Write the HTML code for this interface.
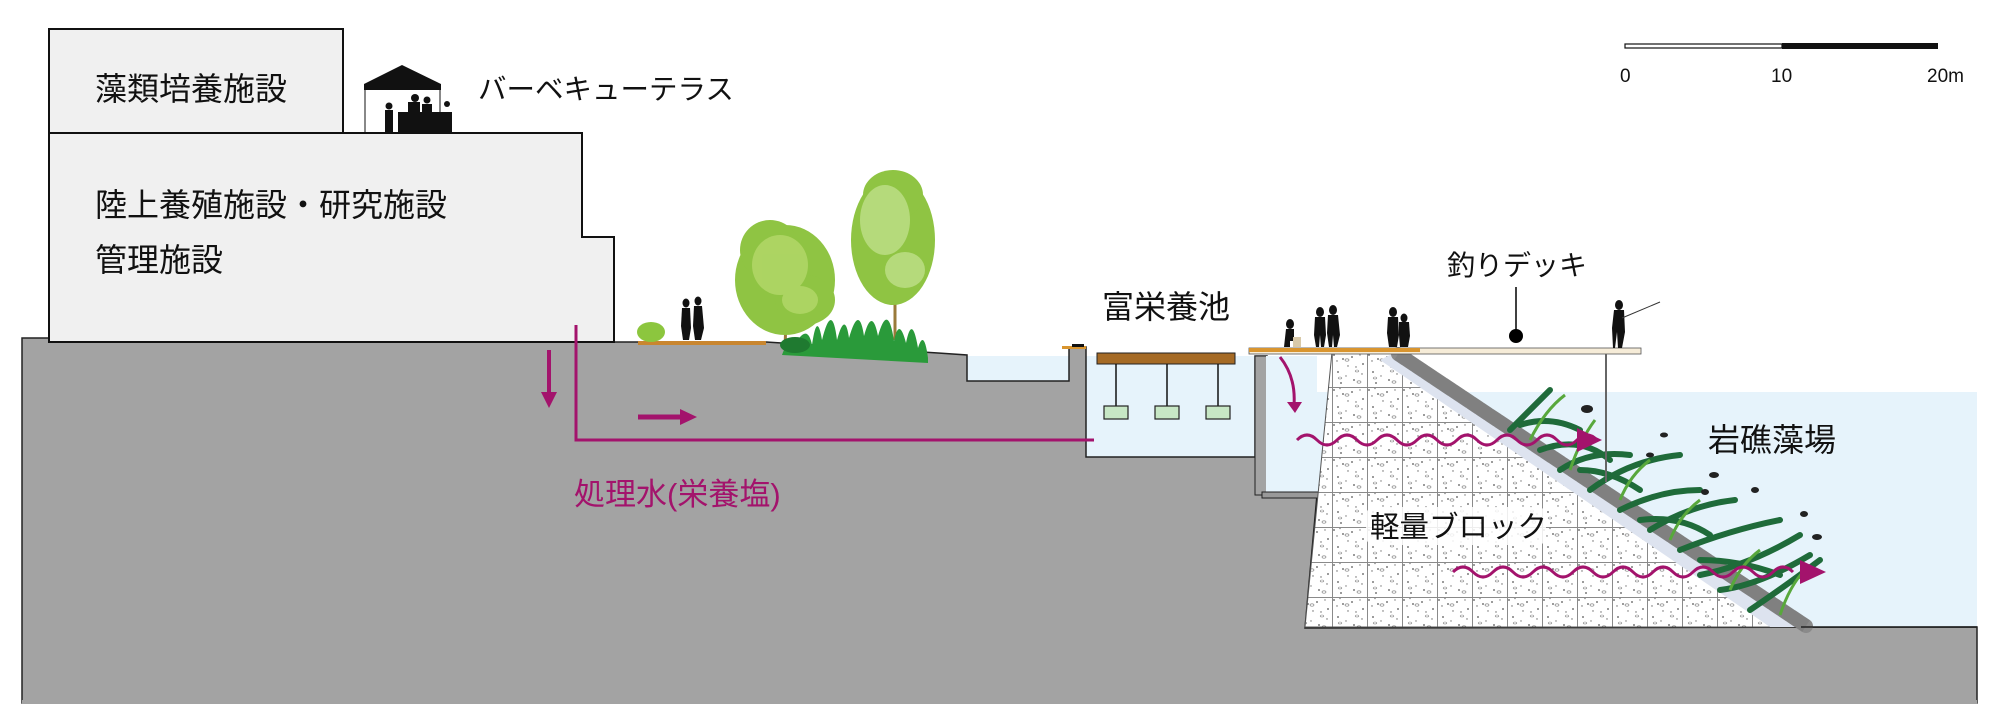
<!DOCTYPE html>
<html><head><meta charset="utf-8"><style>
html,body{margin:0;padding:0;background:#fff;}
svg{display:block}
text{font-family:"Liberation Sans","Noto Sans CJK JP",sans-serif;}
</style></head><body>
<svg width="2000" height="726" viewBox="0 0 2000 726" xmlns="http://www.w3.org/2000/svg">
<defs>
<pattern id="grid" width="35" height="35" patternUnits="userSpaceOnUse" x="1332" y="352">
<rect width="35" height="35" fill="#fff"/>
<circle cx="2" cy="3" r="0.9" fill="#555"/><circle cx="8" cy="1.5" r="0.7" fill="#777"/>
<circle cx="11" cy="7" r="0.9" fill="#555"/><circle cx="5" cy="9" r="0.7" fill="#666"/>
<circle cx="20" cy="5" r="0.9" fill="#555"/><circle cx="28" cy="3" r="0.7" fill="#777"/>
<circle cx="31" cy="12" r="0.9" fill="#555"/><circle cx="24" cy="15" r="0.7" fill="#666"/>
<circle cx="6" cy="20" r="0.9" fill="#555"/><circle cx="14" cy="24" r="0.7" fill="#777"/>
<circle cx="22" cy="28" r="0.9" fill="#555"/><circle cx="30" cy="22" r="0.7" fill="#666"/>
<circle cx="9" cy="31" r="0.9" fill="#555"/><circle cx="16" cy="14" r="0.7" fill="#666"/>
<ellipse cx="15" cy="8" rx="2" ry="1.2" fill="none" stroke="#777" stroke-width="0.6"/>
<ellipse cx="27" cy="30" rx="2" ry="1.2" fill="none" stroke="#777" stroke-width="0.6"/>
<ellipse cx="8" cy="26" rx="1.8" ry="1" fill="none" stroke="#888" stroke-width="0.6"/>
<ellipse cx="25" cy="19" rx="1.8" ry="1" fill="none" stroke="#888" stroke-width="0.6"/>
<path d="M0 0.5H35M0.5 0V35" stroke="#8a8a8a" stroke-width="1" fill="none"/>
</pattern>
</defs>

<!-- water -->
<rect x="967" y="356" width="102" height="30" fill="#e6f3fb"/>
<rect x="1086" y="356" width="170" height="101" fill="#e6f3fb"/>
<rect x="1267" y="392" width="710" height="236" fill="#e6f3fb"/>

<!-- ground -->
<polygon fill="#a3a3a3" stroke="#222" stroke-width="1.5" points="22,338 49,338 49,342 766,342 938,353 967,355 967,381 1069,381 1069,347 1086,347 1086,457 1255,457 1255,356 1267,356 1267,495 1317,495 1305,628 1977,627 1977,703 22,703"/>
<rect x="1255" y="356" width="12" height="139" fill="#a3a3a3" stroke="#222" stroke-width="1"/>
<rect x="1266" y="356" width="51" height="139" fill="#e6f3fb"/>
<rect x="1262" y="492" width="58" height="6" fill="#999" stroke="#222" stroke-width="1"/>
<rect x="22" y="700" width="1955" height="4" fill="#a3a3a3"/>

<!-- block -->
<polygon points="1332,352 1396,352 1801,627 1305,627" fill="url(#grid)" stroke="#555" stroke-width="1"/>
<polygon points="1396,352 1801,627 1770,627 1380,360" fill="#dde3ef"/>
<line x1="1398" y1="354" x2="1806" y2="626" stroke="#8a8a8a" stroke-width="14" stroke-dasharray="9 2" stroke-linecap="round"/>
<line x1="1398" y1="354" x2="1806" y2="626" stroke="#6a6a6a" stroke-width="14" stroke-opacity="0.3"/>
<line x1="1801" y1="627" x2="1977" y2="627" stroke="#222" stroke-width="1.5"/>

<!-- kelp -->
<g stroke="#1f6b3a" stroke-width="6" fill="none" stroke-linecap="round">
<path d="M1510 430 q20 -20 40 -40"/><path d="M1520 425 q30 -10 60 5"/><path d="M1540 450 q40 -15 70 10"/>
<path d="M1560 470 q30 -20 70 -15"/><path d="M1590 490 q40 -30 90 -35"/><path d="M1620 510 q40 -20 80 -20"/>
<path d="M1650 530 q40 -25 85 -30"/><path d="M1680 550 q50 -20 100 -30"/><path d="M1700 575 q50 -10 100 -40"/>
<path d="M1720 590 q40 -5 90 -35"/><path d="M1750 610 q30 -20 70 -50"/><path d="M1580 470 q30 0 60 20"/>
<path d="M1640 520 q40 -5 70 15"/><path d="M1700 560 q40 0 80 15"/>
</g>
<g stroke="#58a83c" stroke-width="3" fill="none">
<path d="M1530 440 q15 -30 35 -45"/><path d="M1570 470 q10 -30 25 -50"/><path d="M1620 500 q10 -25 30 -40"/>
<path d="M1670 540 q10 -25 30 -40"/><path d="M1730 590 q10 -25 30 -40"/><path d="M1780 615 q10 -30 25 -45"/>
</g>
<g fill="#222"><ellipse cx="1587" cy="409" rx="6" ry="4"/><ellipse cx="1664" cy="435" rx="4" ry="2.5"/>
<ellipse cx="1650" cy="455" rx="4" ry="2.5"/><ellipse cx="1714" cy="475" rx="5" ry="3"/><ellipse cx="1705" cy="492" rx="4" ry="3"/>
<ellipse cx="1755" cy="490" rx="4" ry="3"/><ellipse cx="1817" cy="537" rx="5" ry="3"/><ellipse cx="1804" cy="514" rx="4" ry="3"/></g>

<!-- deck -->
<rect x="1249" y="348" width="392" height="6" fill="#f6ecd8" stroke="#555" stroke-width="0.8"/>
<rect x="1249" y="348" width="171" height="4" fill="#d9952f"/>
<line x1="1606" y1="354" x2="1606" y2="482" stroke="#666" stroke-width="2"/>
<line x1="1516" y1="287" x2="1516" y2="331" stroke="#000" stroke-width="1.5"/>
<circle cx="1516" cy="336" r="7" fill="#000"/>
<g fill="#111">
<ellipse cx="1290" cy="324" rx="4" ry="5"/><path d="M1286 329h8v12h-4v6h-6z"/><rect x="1293" y="337" width="8" height="10" fill="#d8c9a8"/>
<ellipse cx="1320" cy="312" rx="4" ry="5"/><path d="M1315 317h10l1 18-2 12h-3l-1-12-1 12h-3l-2-12z"/>
<ellipse cx="1333" cy="310" rx="4" ry="5"/><path d="M1328 315h10l2 20-3 12h-3l-1-12-1 12h-3l-2-14z"/>
<ellipse cx="1393" cy="312" rx="4" ry="5"/><path d="M1388 317h10l1 18-2 12h-8l-2-14z"/>
<ellipse cx="1404" cy="318" rx="3.5" ry="4.5"/><path d="M1399 322h10l1 14-2 11h-8l-1-12z"/>
<ellipse cx="1619" cy="305" rx="4" ry="5"/><path d="M1614 310h10l1 22-3 16h-4l-1-16-2 16h-2l-1-20z"/>
</g>
<line x1="1622" y1="318" x2="1660" y2="302" stroke="#333" stroke-width="1"/>

<!-- tank -->
<rect x="1097" y="353" width="138" height="11" fill="#a56a25" stroke="#222" stroke-width="1"/>
<g stroke="#111" stroke-width="1.5"><line x1="1116" y1="364" x2="1116" y2="406"/><line x1="1167" y1="364" x2="1167" y2="406"/><line x1="1218" y1="364" x2="1218" y2="406"/></g>
<g fill="#c7e7c5" stroke="#222" stroke-width="1.2"><rect x="1104" y="406" width="24" height="13"/><rect x="1155" y="406" width="24" height="13"/><rect x="1206" y="406" width="24" height="13"/></g>
<rect x="1062" y="346" width="24" height="3" fill="#d9952f"/><rect x="1072" y="344" width="12" height="3" fill="#111"/>

<!-- buildings -->
<rect x="49" y="29" width="294" height="104" fill="#f0f0f0" stroke="#111" stroke-width="2"/>
<polygon points="49,133 582,133 582,237 614,237 614,342 49,342" fill="#f0f0f0" stroke="#111" stroke-width="2"/>
<g fill="#111">
<polygon points="402,65 364,84 364,90 441,90 441,84"/>
<line x1="365" y1="88" x2="365" y2="133" stroke="#111" stroke-width="1"/>
<line x1="440" y1="88" x2="440" y2="133" stroke="#111" stroke-width="1"/>
<rect x="398" y="112" width="54" height="21"/>
<circle cx="415" cy="98" r="4"/><rect x="408" y="102" width="12" height="12"/>
<circle cx="427" cy="100" r="3.5"/><rect x="422" y="104" width="10" height="10"/>
<circle cx="389" cy="106" r="3.5"/><rect x="385" y="110" width="8" height="22"/>
<circle cx="447" cy="104" r="3"/>
</g>

<!-- trees / landscape -->
<rect x="638" y="341" width="128" height="4" fill="#c9862f"/>
<ellipse cx="651" cy="332" rx="14" ry="10" fill="#8cc63e"/>
<g fill="#111"><ellipse cx="686" cy="303" rx="3.5" ry="4.5"/><path d="M682 308h8l1 20-2 12h-6l-2-14z"/>
<ellipse cx="698" cy="301" rx="3.5" ry="4.5"/><path d="M694 306h8l2 22-3 12h-6l-2-14z"/></g>
<line x1="785" y1="350" x2="788" y2="250" stroke="#9a7a3a" stroke-width="3"/>
<line x1="895" y1="340" x2="895" y2="190" stroke="#9a7a3a" stroke-width="3"/>
<g fill="#8fc443"><ellipse cx="785" cy="280" rx="50" ry="55"/><ellipse cx="770" cy="250" rx="30" ry="30"/><ellipse cx="805" cy="300" rx="30" ry="25"/></g>
<g fill="#b4d86a" opacity="0.8"><ellipse cx="780" cy="265" rx="28" ry="30"/><ellipse cx="800" cy="300" rx="18" ry="14"/></g>
<g fill="#8fc443"><ellipse cx="893" cy="240" rx="42" ry="65"/><ellipse cx="893" cy="195" rx="30" ry="25"/></g>
<g fill="#bfe08a" opacity="0.8"><ellipse cx="885" cy="220" rx="25" ry="35"/><ellipse cx="905" cy="270" rx="20" ry="18"/></g>
<path d="M782 355 q5 -15 10 -5 q15 -30 20 -5 q5 -35 10 -5 q10 -40 15 0 q8 -30 12 -2 q10 -35 15 -2 q8 -30 14 0 q10 -35 16 5 q5 -25 12 2 q6 -30 12 5 q6 -20 10 10 l0 5z" fill="#2a9a3a"/>
<ellipse cx="795" cy="345" rx="15" ry="8" fill="#1f7a30"/>

<!-- pink flows -->
<g stroke="#a3136c" fill="none">
<polyline points="576,325 576,440 1094,440" stroke-width="3"/>
<line x1="549" y1="350" x2="549" y2="395" stroke-width="4"/>
<line x1="638" y1="417" x2="682" y2="417" stroke-width="5"/>
<path d="M1280 357 q16 20 14 48" stroke-width="3"/>
<path d="M1297 440 q10 -10 20 0 t20 0 t20 0 t20 0 t20 0 t20 0 t20 0 t20 0 t20 0 t20 0 t20 0 t20 0 t20 0 t20 0 t20 0" stroke-width="3"/>
<path d="M1453 572 q10 -10 20 0 t20 0 t20 0 t20 0 t20 0 t20 0 t20 0 t20 0 t20 0 t20 0 t20 0 t20 0 t20 0 t20 0 t20 0 t20 0 t20 0" stroke-width="3"/>
</g>
<g fill="#a3136c">
<polygon points="541,392 557,392 549,408"/>
<polygon points="680,409 697,417 680,425"/>
<polygon points="1287,402 1302,402 1295,413"/>
<polygon points="1577,428 1602,440 1577,452"/>
<polygon points="1800,560 1826,572 1800,584"/>
</g>

<!-- scale bar -->
<rect x="1625" y="44" width="157" height="4" fill="#fff" stroke="#111" stroke-width="1.2"/>
<rect x="1782" y="43" width="156" height="6" fill="#111"/>
<g font-size="19" fill="#111"><text x="1620" y="82">0</text><text x="1771" y="82">10</text><text x="1927" y="82">20m</text></g>

<!-- labels -->
<g font-size="32" fill="#111">
<text x="95" y="100">藻類培養施設</text>
<text x="478" y="99" font-size="28.5">バーベキューテラス</text>
<text x="95" y="216">陸上養殖施設・研究施設</text>
<text x="95" y="271">管理施設</text>
<text x="1102" y="318">富栄養池</text>
<text x="1447" y="275" font-size="28">釣りデッキ</text>
<text x="1708" y="451">岩礁藻場</text>
</g>
<rect x="1366" y="507" width="180" height="38" fill="#fff" opacity="0.85" rx="8"/>
<text x="1370" y="537" font-size="29.5" fill="#111">軽量ブロック</text>
<text x="574" y="505" font-size="31" fill="#a3136c">処理水(栄養塩)</text>
</svg>
</body></html>
